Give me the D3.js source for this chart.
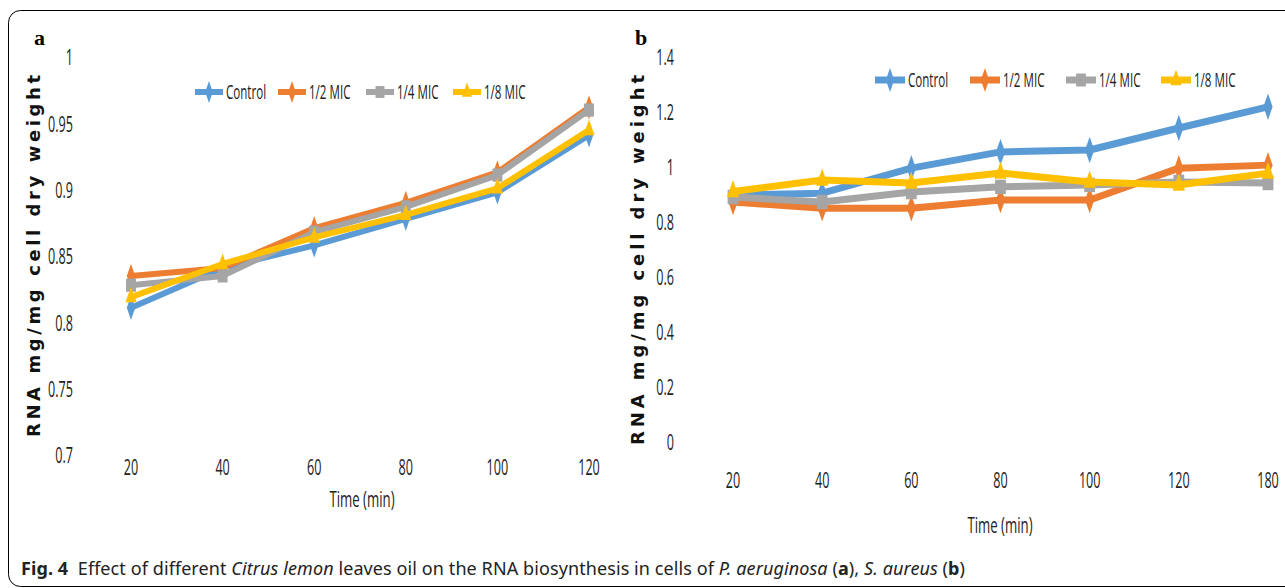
<!DOCTYPE html>
<html>
<head>
<meta charset="utf-8">
<script src="https://cdn.jsdelivr.net/npm/d3@7"></script>
<style>
  body { margin: 0; background: #fff; }
  svg { display: block; }
</style>
</head>
<body>
<div id="container"></div>
<script>
// ---- data ----
const seriesNames = ["Control", "1/2 MIC", "1/4 MIC", "1/8 MIC"];
const seriesColors = ["#5B9BD5", "#ED7D31", "#A5A5A5", "#FFC000"];

const timesA = ["20", "40", "60", "80", "100", "120"];
const controlA = [0.811, 0.841, 0.858, 0.878, 0.898, 0.941];
const halfA    = [0.835, 0.841, 0.871, 0.890, 0.913, 0.962];
const quarterA = [0.828, 0.835, 0.868, 0.887, 0.911, 0.960];
const eighthA  = [0.819, 0.844, 0.864, 0.881, 0.901, 0.945];
const yTicksA = [0.7, 0.75, 0.8, 0.85, 0.9, 0.95, 1];

const timesB = ["20", "40", "60", "80", "100", "120", "180"];
const controlB = [0.896, 0.903, 0.994, 1.053, 1.060, 1.140, 1.217];
const halfB    = [0.871, 0.848, 0.848, 0.878, 0.878, 0.994, 1.005];
const quarterB = [0.889, 0.871, 0.907, 0.926, 0.933, 0.944, 0.940];
const eighthB  = [0.909, 0.951, 0.940, 0.976, 0.944, 0.933, 0.976];
const yTicksB = [0, 0.2, 0.4, 0.6, 0.8, 1, 1.2, 1.4];

const W = 1285, H = 588;
const narrow = "'Open Sans', 'Noto Sans', sans-serif";

const svg = d3.select("#container").append("svg")
  .attr("width", W).attr("height", H)
  .attr("viewBox", [0, 0, W, H]);

// outer frame
svg.append("rect")
  .attr("x", 8.5).attr("y", 10.5)
  .attr("width", 1320).attr("height", 576)
  .attr("rx", 12)
  .attr("fill", "none").attr("stroke", "#000").attr("stroke-width", 1);

// condensed text helper (the source uses a narrow font)
function narrowText(g, x, y, str, size, anchor, sx) {
  g.append("g")
    .attr("transform", `translate(${x},${y}) scale(${sx || 0.6},1)`)
    .append("text")
    .attr("text-anchor", anchor)
    .attr("dominant-baseline", "central")
    .attr("font-family", narrow)
    .attr("font-size", size)
    .attr("fill", "#222")
    .text(str);
}

function marker(g, i, x, y, s) {
  const c = seriesColors[i];
  if (i === 0 || i === 1) {
    g.append("path")
      .attr("d", d3.symbol(d3.symbolDiamond, s * s * 0.9)())
      .attr("transform", `translate(${x},${y}) scale(0.75,1.25)`)
      .attr("fill", c);
  } else if (i === 2) {
    g.append("rect")
      .attr("x", x - s * 0.45).attr("y", y - s * 0.6)
      .attr("width", s * 0.9).attr("height", s * 1.2)
      .attr("fill", c);
  } else {
    g.append("path")
      .attr("d", d3.symbol(d3.symbolTriangle, s * s * 0.7)())
      .attr("transform", `translate(${x},${y}) scale(0.8,1.3)`)
      .attr("fill", c);
  }
}

function drawPanel(cfg) {
  const g = svg.append("g");
  const x = d3.scalePoint().domain(cfg.times).range(cfg.xRange);
  const y = d3.scaleLinear().domain(cfg.yDomain).range(cfg.yRange);

  // y tick labels
  cfg.yTicks.forEach(t => narrowText(g, cfg.yLabelX, y(t), String(t), 21, "end"));
  // x tick labels
  cfg.times.forEach(t => narrowText(g, x(t), cfg.xLabelY, t, 21, "middle"));

  // axis titles
  narrowText(g, cfg.xTitle[0], cfg.xTitle[1], "Time (min)", 22, "middle");
  g.append("text")
    .attr("transform", `translate(${cfg.yTitle[0]},${cfg.yTitle[1]}) rotate(-90)`)
    .attr("text-anchor", "middle")
    .attr("dominant-baseline", "central")
    .attr("font-family", "'DejaVu Sans', Verdana, sans-serif")
    .attr("font-weight", "bold")
    .attr("font-size", 18)
    .attr("textLength", cfg.yTitle[2])
    .attr("lengthAdjust", "spacing")
    .attr("fill", "#111")
    .text("RNA mg/mg cell dry weight");

  // panel letter
  g.append("text")
    .attr("x", cfg.letter[0]).attr("y", cfg.letter[1])
    .attr("font-family", "'Liberation Serif', 'DejaVu Serif', serif")
    .attr("font-weight", "bold").attr("font-size", 22)
    .text(cfg.letter[2]);

  // lines + markers
  const line = d3.line().x((d, i) => x(cfg.times[i])).y(d => y(d));
  cfg.series.forEach((vals, si) => {
    g.append("path")
      .datum(vals)
      .attr("d", line)
      .attr("fill", "none")
      .attr("stroke", seriesColors[si])
      .attr("stroke-width", cfg.lineW)
      .attr("stroke-linejoin", "round");
    vals.forEach((v, i) => marker(g, si, x(cfg.times[i]), y(v), cfg.markS));
  });

  // legend
  seriesNames.forEach((name, i) => {
    const lx = cfg.legendX[i];
    g.append("line")
      .attr("x1", lx).attr("x2", lx + cfg.legendLine)
      .attr("y1", cfg.legendY).attr("y2", cfg.legendY)
      .attr("stroke", seriesColors[i]).attr("stroke-width", cfg.lineW);
    marker(g, i, lx + cfg.legendLine / 2, cfg.legendY, cfg.markS * 0.9);
    narrowText(g, lx + cfg.legendLine + 3, cfg.legendY, name, 20, "start", 0.58);
  });
}

drawPanel({
  times: timesA,
  series: [controlA, halfA, quarterA, eighthA],
  xRange: [131, 589],
  yDomain: [0.7, 1], yRange: [455, 57],
  yTicks: yTicksA,
  yLabelX: 73, xLabelY: 467,
  xTitle: [362, 499],
  yTitle: [33, 256, 362],
  letter: [34, 45, "a"],
  lineW: 6, markS: 11,
  legendX: [195, 278, 366, 453], legendLine: 28, legendY: 92
});

drawPanel({
  times: timesB,
  series: [controlB, halfB, quarterB, eighthB],
  xRange: [733, 1268],
  yDomain: [0, 1.4], yRange: [441.5, 56.5],
  yTicks: yTicksB,
  yLabelX: 674, xLabelY: 480,
  xTitle: [1000, 525],
  yTitle: [637, 260, 370],
  letter: [635, 45, "b"],
  lineW: 7, markS: 12,
  legendX: [875, 970, 1066, 1161], legendLine: 30, legendY: 80
});

// caption
const cap = svg.append("text")
  .attr("x", 21).attr("y", 575)
  .attr("font-family", "'Noto Sans', 'Open Sans', sans-serif")
  .attr("font-size", 18)
  .attr("textLength", 944)
  .attr("lengthAdjust", "spacing")
  .attr("fill", "#222")
  .attr("xml:space", "preserve");
const parts = [
  ["Fig. 4", "bold", "normal"],
  ["  Effect of different ", "normal", "normal"],
  ["Citrus lemon", "normal", "italic"],
  [" leaves oil on the RNA biosynthesis in cells of ", "normal", "normal"],
  ["P. aeruginosa", "normal", "italic"],
  [" (", "normal", "normal"],
  ["a", "bold", "normal"],
  ["), ", "normal", "normal"],
  ["S. aureus", "normal", "italic"],
  [" (", "normal", "normal"],
  ["b", "bold", "normal"],
  [")", "normal", "normal"]
];
parts.forEach(p => cap.append("tspan")
  .attr("font-weight", p[1]).attr("font-style", p[2])
  .text(p[0]));
</script>
</body>
</html>
